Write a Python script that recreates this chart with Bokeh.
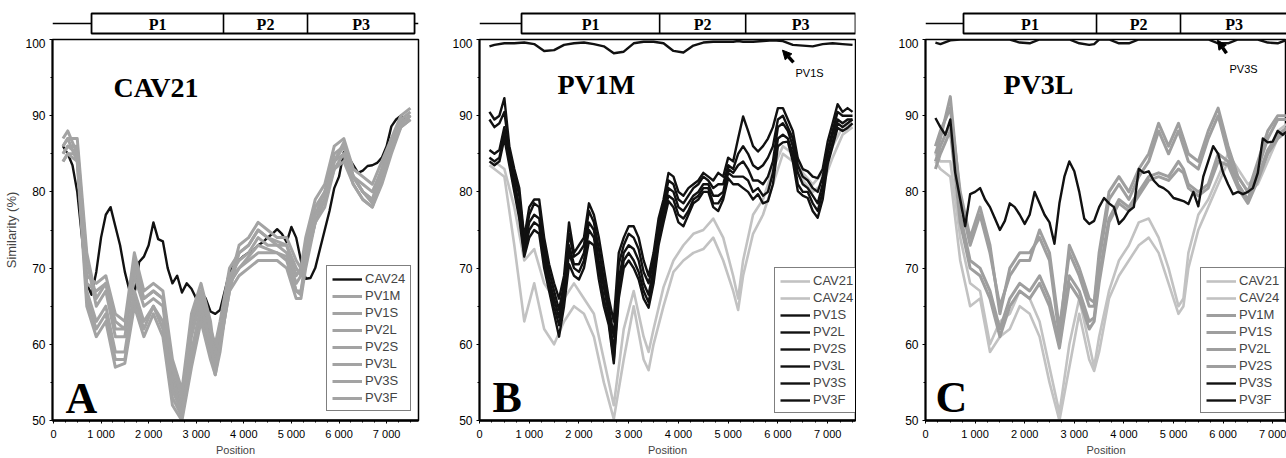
from bokeh.plotting import figure
from bokeh.models import Range1d, Legend, LegendItem, FixedTicker, Arrow, NormalHead, Label
from bokeh.layouts import row, column
from bokeh.embed import file_html
from bokeh.resources import INLINE
from bokeh.core.properties import value

SANS = "Liberation Sans"
SERIF = "Liberation Serif"

# ---------------- data ----------------
XF = list(range(200, 7501, 100))
XG = [200, 300, 500, 700, 900, 1100, 1300, 1500, 1700, 1900,
      2100, 2300, 2500, 2700, 2900, 3100, 3300, 3400, 3500, 3700,
      3900, 4100, 4300, 4500, 4700, 4900, 5100, 5200, 5300, 5500,
      5700, 5900, 6100, 6300, 6500, 6700, 6900, 7100, 7300, 7500]

XTICKS = [0, 1000, 2000, 3000, 4000, 5000, 6000, 7000]
XLABELS = ["0", "1 000", "2 000", "3 000", "4 000", "5 000", "6 000", "7 000"]
YTICKS = [50, 60, 70, 80, 90, 100]
GENES = ["P1", "P2", "P3"]

# Panel A: CAV21 query
CAV24_A = [86, 85, 83.5, 80, 74, 68, 66.5, 69.5, 74,
           77, 78, 75.5, 73, 69.5, 67, 66.5, 70.8, 71.5, 73,
           76, 73.8, 73.5, 70, 68, 69, 66.8, 68, 67.3, 66,
           66.8, 66, 64.3, 64, 64.5, 67, 69.5, 70.5, 71, 71.6,
           72, 72.3, 73, 73.4, 74, 74.5, 75.1, 74.5, 73.4, 75.4,
           74, 71, 68.6, 68.7, 70, 72.5, 75, 77.5, 80.5, 82,
           85.2, 84.5, 83.5, 82.5, 82.8, 83.4, 83.5, 83.8, 84.5, 86,
           88.6, 89.5, 90, 89.5, 90]
PV1M_A = [86, 87, 87, 72, 66, 68, 62, 62, 70, 66,
          67, 66, 56, 52, 62, 67, 62, 60, 63, 70,
          72, 73, 75, 74, 73.5, 73, 69, 70, 74, 79,
          81, 86, 87, 83, 82, 81, 84, 87, 90, 91]
PV1S_A = [85, 86, 86, 71, 65, 67, 61, 61, 69, 65,
          66, 65, 55, 51, 61, 66, 61, 59, 62, 69,
          71, 72, 74, 73, 73, 72, 68, 69, 73, 78,
          80, 85, 86, 82, 81, 80, 83, 86.5, 89.5, 90.5]
PV2L_A = [87, 88, 85, 69, 68, 69, 64, 63, 72, 67,
          68, 67, 58, 54, 64, 68, 63, 58, 61, 68,
          73, 74, 76, 75, 74, 74, 71, 70, 72, 77,
          80, 84, 85, 82, 80, 79, 82, 86, 89, 90]
PV2S_A = [86, 87, 84, 68, 67, 68, 63, 62, 71, 66,
          67, 66, 57, 53, 63, 67, 62, 57, 60, 67,
          72, 73, 75, 74, 73, 73, 70, 69, 71, 76,
          79, 83, 84, 81, 79, 78, 81, 85, 88.5, 89.5]
PV3L_A = [84, 85, 85, 66, 62, 64, 58, 58, 66, 62,
          65, 62, 53, 50.5, 58, 64, 59, 56, 59, 68,
          70, 71, 72, 72, 72, 71, 67, 67, 71, 76,
          79, 84, 86, 82, 80, 79, 83, 87, 89, 90]
PV3S_A = [84, 85, 84, 65, 61, 63, 57, 57.5, 65, 61,
          64, 61, 52, 50, 57, 63, 58, 56, 60, 67,
          69, 70, 71, 71, 71, 70, 66, 66, 70, 76,
          78, 83, 85, 81, 79, 78, 82, 86, 88.5, 89.5]
PV3F_A = [85, 86, 85, 67, 63, 65, 59, 59, 67, 63,
          65, 63, 54, 51, 59, 65, 60, 57, 60, 68,
          70, 71.5, 73, 72.5, 72, 71.5, 67, 66.5, 71, 77,
          79, 84, 86.5, 82, 80, 78.5, 82.5, 86, 89, 90]

# Panel B: PV1M query
CAV21_B = [84.5, 84, 83, 78, 71, 72.5, 68, 66, 66, 68,
           66, 64, 58, 52, 62, 67, 61, 59, 62, 67.5,
           71, 73, 74.5, 75, 76.5, 74, 69, 66, 71, 77,
           79, 83, 86, 85, 82.5, 81, 82.5, 86, 88.5, 89]
CAV24_B = [83.5, 83, 82, 73, 63, 68, 62, 60, 63, 65,
           64, 61, 55, 50.2, 58, 65, 58, 56.6, 60, 65,
           69.5, 71, 72, 72.5, 74, 71, 67, 64.5, 69, 74.5,
           77, 81, 85, 84, 81.5, 80, 81, 84.5, 87.5, 88.5]
PV1S_B = [99.1, 99.3, 99.5, 99.5, 99.6, 99.4, 98.5, 98.6, 99.3, 99.5,
          99.6, 99.4, 99.1, 98.2, 98.4, 99.5, 99.7, 99.7, 99.7, 99.5,
          98.5, 98.3, 99.2, 99.6, 99.7, 99.7, 99.7, 99.8, 99.7, 99.7,
          99.8, 99.9, 99.8, 99.3, 99.2, 99.1, 99.4, 99.5, 99.4, 99.3]
PV2L_B = [89.5, 88.5, 89, 90.5, 85.5, 82.5, 79.5, 73.5, 77,
          78.5, 78, 73, 69.5, 67, 64.5, 68, 74.5, 71.5, 72,
          73, 77.5, 76, 72.5, 68.5, 65, 61, 70.5, 73, 74.5,
          74, 72.5, 69.5, 68, 71, 75.5, 78.5, 81.5, 81, 79,
          78.5, 79.5, 80.5, 81, 82, 81.5, 80.5, 81, 81, 83.5,
          83, 85, 86, 85, 83.5, 83, 83.5, 84.5, 86, 89.5,
          90, 88.5, 87, 83.5, 82, 81.5, 80.5, 80, 82, 85.5,
          88, 90.5, 90, 90, 90]
PV2S_B = [90.5, 89.5, 90, 92.3, 86, 83, 80.5, 74, 78,
          79, 79, 74, 70.5, 68, 66, 69, 76, 72, 73,
          74, 78.5, 77, 74, 70, 66, 63, 72, 74, 75.5,
          75.5, 74, 71, 69, 72, 76.5, 79, 82.5, 82, 80,
          79.5, 80.5, 81, 81.5, 82.5, 82, 81.5, 82.5, 82, 84.5,
          84, 87, 89.9, 88, 86, 85.3, 86, 87, 88.5, 91,
          91, 89.5, 88, 84.4, 83, 82.7, 82, 81.8, 83, 86.6,
          89, 91.5, 90.5, 91, 90.5]
PV3L_B = [85.5, 85, 85.5, 88.5, 84.5, 81.5, 78, 72.5, 76,
          77, 76.5, 72, 68.5, 66, 63.5, 67, 73, 70.5, 70.5,
          72, 76, 75, 71, 67.5, 64, 59, 68.5, 72, 73,
          72.5, 71, 68, 66.5, 70, 74.5, 77.5, 80.5, 80, 78,
          77.5, 78.5, 79.5, 80, 81, 81, 79.5, 79.5, 80, 83,
          82.5, 83.5, 84, 83, 81.5, 81.5, 81, 82, 84, 88.5,
          89, 88, 86, 82.5, 81, 80.5, 79.5, 78.5, 81, 85,
          87.5, 89.5, 89, 89.5, 89.5]
PV3S_B = [84.5, 84, 84.5, 87.5, 84, 80.5, 77, 72, 75,
          76, 75.5, 71, 68, 65, 62.5, 66, 72, 70, 69.5,
          71, 75, 74, 70, 66, 63, 58, 67, 71, 72,
          71, 69.5, 67, 65.5, 69, 73.5, 77, 79.5, 79, 77,
          76.5, 77.5, 79, 79.5, 80.5, 80.5, 78.5, 78.5, 79.5, 82.5,
          82, 82, 82, 81.5, 80, 80.5, 79.5, 80, 82.5, 87,
          87.5, 87, 85, 81, 80, 80, 78.5, 77.5, 80, 84,
          86.5, 89, 88.5, 89, 89.5]
PV3F_B = [84, 83.5, 84, 87, 83.5, 80, 76.5, 71.5, 74,
          75, 74.5, 70, 67, 64, 61, 65, 70.5, 69, 68.5,
          70, 73.5, 73, 68.5, 65, 62.5, 57.5, 66, 70, 71,
          70, 68.5, 66, 64.8, 68, 73, 76, 78.8, 78, 76,
          75.5, 77, 78.5, 79, 80, 80, 78, 77.5, 79, 81.8,
          81, 81, 80.5, 80, 79, 79.7, 78.5, 78.8, 81, 86,
          86.5, 86.6, 84, 80.1, 79.5, 79.2, 77.5, 76.6, 79, 83.6,
          86, 88.4, 88, 88.4, 89]

# Panel C: PV3L query
CAV21_C = [85, 84, 84, 74, 68, 67, 60, 63, 64, 67,
           66, 63, 57, 51, 60, 66, 60, 57, 61, 67,
           71, 73, 76, 76.5, 74, 70, 65, 66, 72, 77,
           79, 82, 85, 83, 81, 82, 85, 88, 89, 89]
CAV24_C = [84, 83, 82, 71, 65, 66, 59, 61, 62, 65,
           64, 61, 55, 50, 57, 64, 58, 56.5, 59, 66,
           69, 71, 73, 74, 72, 68, 64, 65, 70, 75,
           78, 81, 84, 82, 80, 81, 84, 87, 88.5, 88.5]
PV1M_C = [86, 88, 91, 80, 74, 78, 73, 64, 70, 72,
          72, 74, 71, 61, 73, 70, 66, 65.5, 72, 80,
          82, 80, 83, 85, 89, 86, 89, 87, 85, 84,
          88, 91, 86, 82, 80, 84, 88, 90, 90, 90.5]
PV1S_C = [85, 87, 92.5, 79, 73, 77, 72, 65, 69, 71,
          71, 75, 72, 62, 72, 69, 65, 65, 71, 79,
          81, 79, 82, 84, 88, 85, 88, 86, 84, 83,
          87, 90, 85, 81, 79, 83, 87, 89.5, 89.5, 90]
PV2L_C = [84, 86, 89, 77, 71, 70, 67, 62, 66, 68,
          67, 69, 66, 60, 69, 67, 63, 63.5, 69, 76.5,
          79, 78, 80, 82, 82.5, 82, 84, 83, 81, 80,
          81, 85, 84, 81, 79, 82, 85.5, 87.5, 88.5, 89]
PV2S_C = [83, 85, 88, 76, 70, 69, 66, 61, 65, 67,
          66, 68, 65, 59.5, 68, 66, 62, 63, 68, 76,
          78.5, 77.5, 79.5, 81.5, 82, 81.5, 83, 82.5, 80.5, 79.5,
          80.5, 84, 83.5, 80.5, 78.5, 81.5, 85, 87, 88, 88.5]
PV3S_C = [99.6, 99.4, 99.9, 100, 100, 100, 100, 100, 100, 99.6,
          99.5, 100, 100, 100, 100, 99.5, 99.3, 99.4, 100, 100,
          99.5, 99.5, 100, 100, 100, 100, 100, 100, 100, 100,
          100, 99.5, 99.5, 100, 100, 100, 99.6, 99.5, 100, 100]
PV3F_C = [89.7, 88.5, 87.5, 89.5, 82.5, 79, 75.5, 79.7, 80,
          80.5, 79, 78, 76.5, 75, 76.2, 78.5, 78, 77, 75.8,
          77, 80, 78.5, 77, 76, 73.2, 78.5, 82, 84, 82.7,
          80, 76.5, 75.8, 76.2, 78, 79.2, 78.5, 78, 75.8, 76.5,
          77.5, 78, 83, 82.5, 82.7, 81.5, 80.8, 80.5, 80, 79.2,
          79, 78.8, 78.4, 80, 78.1, 82, 84, 86, 85, 82.5,
          81, 79.7, 80, 79.7, 80, 80.5, 82.5, 87, 86.5, 86.6,
          88, 87.5, 88, 88.5, 88]

# genome map boundaries per panel (start of P1, P1/P2, P2/P3, end of P3)
MAP_A = [800, 3573, 5338, 7587]
MAP_B = [845, 3622, 5352, 7560]
MAP_C = [766, 3448, 5141, 7300]

# ---------------- styles ----------------
BLACK = dict(color="#111111", width=2.4)
GRAY_A = dict(color="#a3a3a3", width=3.0)
LIGHT = dict(color="#c2c2c2", width=2.6)
MID = dict(color="#9e9e9e", width=3.0)

panels = [
    dict(name="CAV21", letter="A", w=430, bl=52, br=12, x0=-20, x1=7670, mp=MAP_A,
         name_xy=(1262, 93.7), letter_xy=(253, 52.9), leg=(274, 9), ylabel=True,
         series=[("CAV24", XF, CAV24_A, BLACK), ("PV1M", XG, PV1M_A, GRAY_A),
                 ("PV1S", XG, PV1S_A, GRAY_A), ("PV2L", XG, PV2L_A, GRAY_A),
                 ("PV2S", XG, PV2S_A, GRAY_A), ("PV3L", XG, PV3L_A, GRAY_A),
                 ("PV3S", XG, PV3S_A, GRAY_A), ("PV3F", XG, PV3F_A, GRAY_A)],
         arrow=None),
    dict(name="PV1M", letter="B", w=426, bl=49, br=1, x0=0, x1=7560, mp=MAP_B,
         name_xy=(1568, 94.1), letter_xy=(261, 53.0), leg=(295, 7), ylabel=False,
         series=[("CAV21", XG, CAV21_B, LIGHT), ("CAV24", XG, CAV24_B, LIGHT),
                 ("PV1S", XG, PV1S_B, BLACK), ("PV2L", XF, PV2L_B, BLACK),
                 ("PV2S", XF, PV2S_B, BLACK), ("PV3L", XF, PV3L_B, BLACK),
                 ("PV3S", XF, PV3S_B, BLACK), ("PV3F", XF, PV3F_B, BLACK)],
         arrow=("PV1S", 6313, 97.0, 6092, 98.6, 6353, 95.6)),
    dict(name="PV3L", letter="C", w=430, bl=69, br=0, x0=0, x1=7278, mp=MAP_C,
         name_xy=(1573, 94.1), letter_xy=(202, 53.0), leg=(275, 7), ylabel=False,
         series=[("CAV21", XG, CAV21_C, LIGHT), ("CAV24", XG, CAV24_C, LIGHT),
                 ("PV1M", XG, PV1M_C, MID), ("PV1S", XG, PV1S_C, MID),
                 ("PV2L", XG, PV2L_C, MID), ("PV2S", XG, PV2S_C, MID),
                 ("PV3S", XG, PV3S_C, BLACK), ("PV3F", XF, PV3F_C, BLACK)],
         arrow=("PV3S", 6069, 98.2, 5887, 99.9, 6129, 96.1)),
]

for cfg in panels:
    for lab, xs, ys, st in cfg["series"]:
        assert len(xs) == len(ys), (cfg["name"], lab, len(xs), len(ys))


def build(cfg):
    xr = Range1d(cfg["x0"], cfg["x1"])
    # genome map strip
    m = figure(width=cfg["w"], height=38, x_range=xr, y_range=Range1d(38, 0),
               x_axis_type=None, y_axis_type=None, output_backend="svg",
               toolbar_location=None, min_border_left=cfg["bl"],
               min_border_right=cfg["br"], min_border_top=0, min_border_bottom=0)
    m.outline_line_color = None
    m.background_fill_color = "white"
    b0, b1, b2, b3 = cfg["mp"]
    m.segment(x0=[cfg["x0"], b3], y0=[23, 23], x1=[b0, cfg["x1"]], y1=[23, 23],
              line_color="black", line_width=1.5)
    m.quad(left=[b0], right=[b3], top=[13], bottom=[33], fill_color="white",
           line_color="black", line_width=1.8)
    m.segment(x0=[b1, b2], y0=[13, 13], x1=[b1, b2], y1=[33, 33],
              line_color="black", line_width=1.6)
    m.text(x=[(b0 + b1) / 2, (b1 + b2) / 2, (b2 + b3) / 2], y=[24, 24, 24], text=GENES,
           text_font=value(SERIF), text_font_style="bold", text_font_size="16px",
           text_align="center", text_baseline="middle", text_color="black")

    p = figure(width=cfg["w"], height=420, x_range=xr, y_range=Range1d(50, 100),
               output_backend="svg", toolbar_location=None,
               min_border_left=cfg["bl"], min_border_right=cfg["br"],
               min_border_top=1, min_border_bottom=36)
    p.grid.visible = False
    p.outline_line_color = "black"
    p.outline_line_width = 1.5
    p.background_fill_color = "white"

    xa = p.xaxis[0]
    xa.ticker = FixedTicker(ticks=XTICKS, minor_ticks=list(range(0, 7751, 250)))
    xa.major_label_overrides = {t: s for t, s in zip(XTICKS, XLABELS)}
    xa.axis_line_width = 2.5
    xa.major_tick_out = 3
    xa.major_tick_in = 0
    xa.minor_tick_out = 2
    xa.minor_tick_in = 0
    xa.major_label_standoff = 4
    xa.major_label_text_font = SANS
    xa.major_label_text_font_size = "11px"
    xa.major_label_text_color = "black"
    xa.axis_label = "Position"
    xa.axis_label_text_font = SANS
    xa.axis_label_text_font_size = "11px"
    xa.axis_label_text_font_style = "normal"
    xa.axis_label_standoff = 1

    ya = p.yaxis[0]
    ya.ticker = FixedTicker(ticks=YTICKS, minor_ticks=[55, 65, 75, 85, 95])
    ya.axis_line_width = 2
    ya.major_tick_out = 3
    ya.major_tick_in = 0
    ya.minor_tick_out = 2
    ya.minor_tick_in = 0
    ya.major_label_standoff = 4
    ya.major_label_text_font = SANS
    ya.major_label_text_font_size = "12px"
    ya.major_label_text_color = "black"
    if cfg["ylabel"]:
        ya.axis_label = "Similarity (%)"
        ya.axis_label_text_font = SANS
        ya.axis_label_text_font_size = "13px"
        ya.axis_label_text_font_style = "normal"
        ya.axis_label_standoff = 3

    items = []
    for lab, xs, ys, st in cfg["series"]:
        r = p.line(xs, ys, line_color=st["color"], line_width=st["width"],
                   line_join="round")
        items.append(LegendItem(label=lab, renderers=[r]))

    leg = Legend(items=items, location=cfg["leg"], label_text_font=SANS,
                 label_text_font_size="13px", glyph_width=30, glyph_height=14,
                 label_height=14, spacing=2, padding=5, margin=0, label_standoff=3,
                 border_line_color="black", border_line_width=1.5,
                 background_fill_color="white", background_fill_alpha=1.0)
    p.add_layout(leg)

    nx, ny = cfg["name_xy"]
    p.add_layout(Label(x=nx, y=ny, text=cfg["name"], text_font=SERIF,
                       text_font_style="bold", text_font_size="28px",
                       text_baseline="alphabetic", text_color="black"))
    lx, ly = cfg["letter_xy"]
    p.add_layout(Label(x=lx, y=ly, text=cfg["letter"], text_font=SERIF,
                       text_font_style="bold", text_font_size="44px",
                       text_baseline="alphabetic", text_color="black"))
    if cfg["arrow"]:
        t, xs0, ys0, xe, ye, tx, ty = cfg["arrow"]
        p.add_layout(Arrow(end=NormalHead(size=9, line_color="black", fill_color="black"),
                           x_start=xs0, y_start=ys0, x_end=xe, y_end=ye,
                           line_width=3.5, line_color="black"))
        p.add_layout(Label(x=tx, y=ty, text=t, text_font=SANS, text_font_size="11px",
                           text_baseline="alphabetic", text_color="black"))
    return column(m, p, spacing=0)


layout = row(*[build(c) for c in panels], spacing=0)
open("out.html", "w").write(file_html(layout, INLINE))
